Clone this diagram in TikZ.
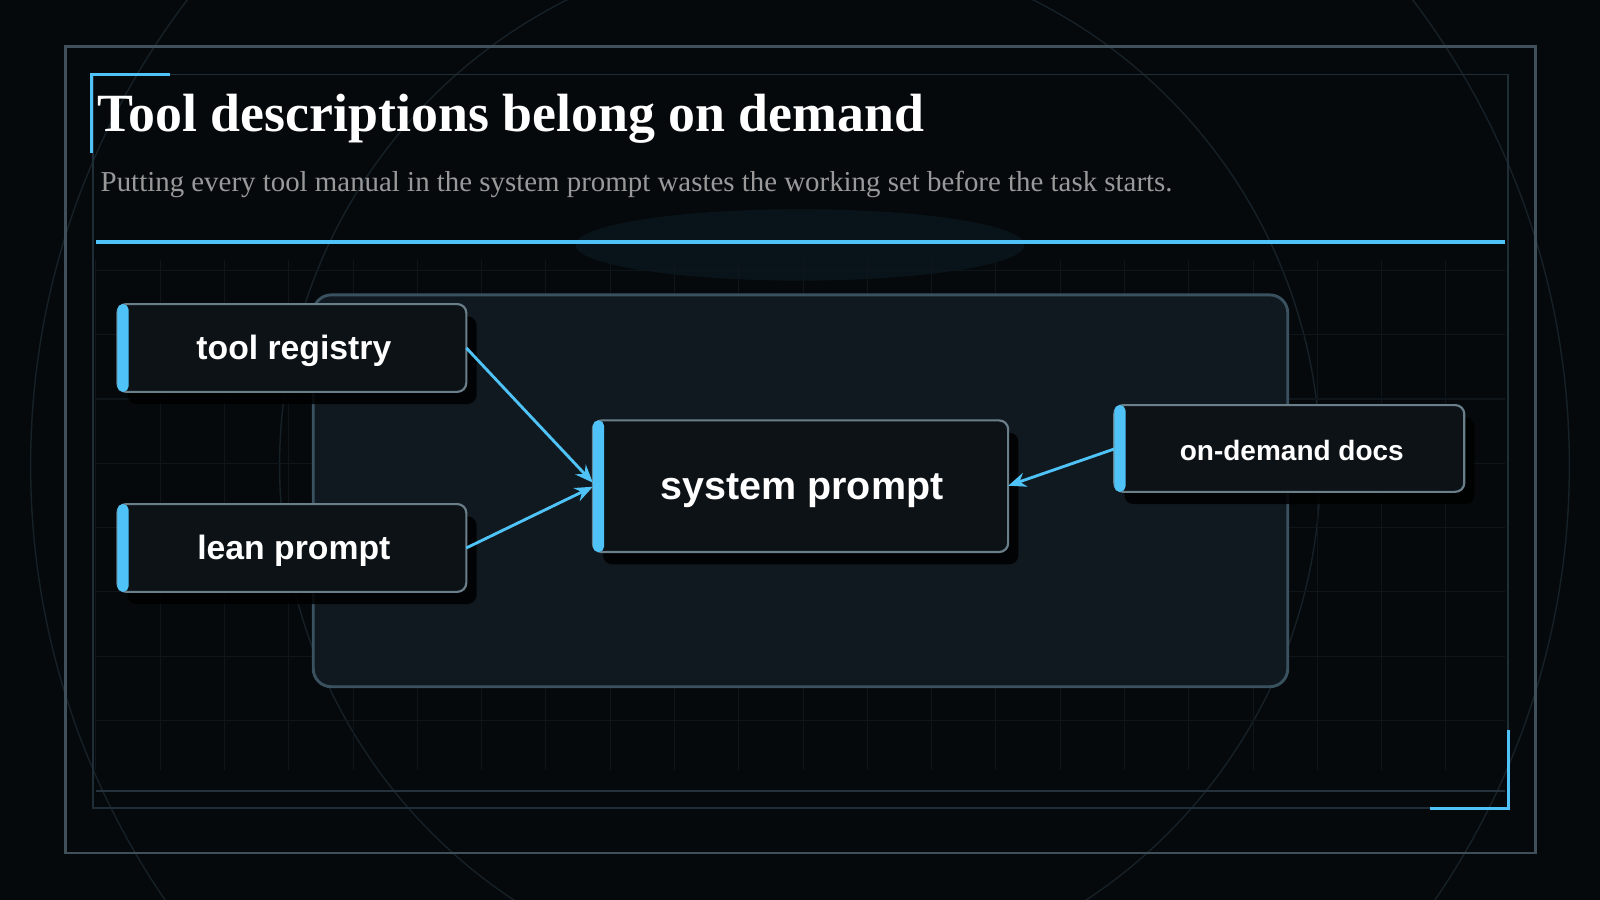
\documentclass[tikz,border=0pt]{standalone}
\usepackage{fontspec}
\setmainfont{Liberation Serif}
\setsansfont{Liberation Sans}
\usetikzlibrary{arrows.meta}
\definecolor{bg}{HTML}{05090C}
\definecolor{cy}{HTML}{4FC3F7}
\definecolor{fr}{HTML}{2A3D48}
\definecolor{nodefill}{HTML}{0D1216}
\definecolor{nodeline}{HTML}{6A7F8A}
\definecolor{cont}{HTML}{111920}
\definecolor{contline}{HTML}{3A5260}
\begin{document}
\begin{tikzpicture}[x=0.01cm,y=-0.01cm,
  box/.style={draw=nodeline,line width=0.6pt,fill=nodefill,rounded corners=2.5pt,inner sep=0pt},
  arr/.style={draw=cy,line width=0.8pt,-{Stealth[length=5pt,width=4pt]}},
  lbl/.style={font=\sffamily\bfseries,text=white}]
\useasboundingbox (0,0) rectangle (1568,882);
\fill[bg] (0,0) rectangle (1568,882);
\fill[cy!12!bg,opacity=0.5] (784,240) ellipse (220 and 35);
\draw[fr!45!bg,line width=0.4pt] (784,456) circle (754);
\draw[fr!45!bg,line width=0.4pt] (784,456) circle (510);
% grid
\foreach \x in {94,157,...,1475} \draw[fr!25!bg,line width=0.3pt] (\x,255) -- (\x,755);
\foreach \y in {265,328,...,755} \draw[fr!25!bg,line width=0.3pt] (94,\y) -- (1475,\y);
% frames
\draw[fr!90!white,line width=0.8pt] (64,46) rectangle (1505,836);
\draw[fr!70!bg,line width=0.5pt] (91,73) rectangle (1478,792);
\draw[fr!80!bg,line width=0.6pt] (94,775) -- (1475,775);
\draw[cy,line width=0.9pt] (167,73) -- (90,73) -- (90,150);
\draw[cy,line width=0.9pt] (1478,715) -- (1478,792) -- (1401,792);
% title
\node[anchor=base west,inner sep=0pt,text=white,font=\fontsize{15}{17}\selectfont\bfseries] (title) at (95,129) {Tool descriptions belong on demand};
\node[anchor=base west,inner sep=0pt,text=gray!80,font=\fontsize{8.05}{9.5}\selectfont] (sub) at (98,188) {Putting every tool manual in the system prompt wastes the working set before the task starts.};
\draw[cy,line width=1.2pt] (94,237) -- (1475,237);
% container
\draw[contline,line width=0.8pt,fill=cont,rounded corners=5pt] (307,289) rectangle (1262,673);
% shadows
\foreach \a/\b/\c/\d in {115/298/457/384,115/494/457/580,581/412/988/541,1092/397/1435/482}
  \fill[black,rounded corners=2.5pt,opacity=0.85] (\a+10,\b+12) rectangle (\c+10,\d+12);
% nodes
\draw[box] (115,298) rectangle (457,384);
\draw[box] (115,494) rectangle (457,580);
\draw[box] (581,412) rectangle (988,541);
\draw[box] (1092,397) rectangle (1435,482);
\foreach \a/\b/\d in {115/298/384,115/494/580,581/412/541,1092/397/482}
  \fill[cy,rounded corners=1.5pt] (\a,\b) rectangle (\a+11,\d);
\node[lbl,font=\sffamily\bfseries\fontsize{9.4}{11}\selectfont] (reg) at (288,344) {tool registry};
\node[lbl,font=\sffamily\bfseries\fontsize{9.4}{11}\selectfont] (lean) at (288,540) {lean prompt};
\node[lbl,font=\sffamily\bfseries\fontsize{11}{13}\selectfont] (sys) at (786,481) {system prompt};
\node[lbl,font=\sffamily\bfseries\fontsize{7.8}{9}\selectfont] (docs) at (1266,441) {on-demand docs};
\coordinate (regE) at (457,341);
\coordinate (leanE) at (457,537);
\coordinate (docsW) at (1092,440);
\coordinate (sysW1) at (581,473);
\coordinate (sysW2) at (581,477);
\coordinate (sysE) at (988,476);
\draw[arr] (regE) -- (sysW1);
\draw[arr] (leanE) -- (sysW2);
\draw[arr] (docsW) -- (sysE);
\end{tikzpicture}
\end{document}
